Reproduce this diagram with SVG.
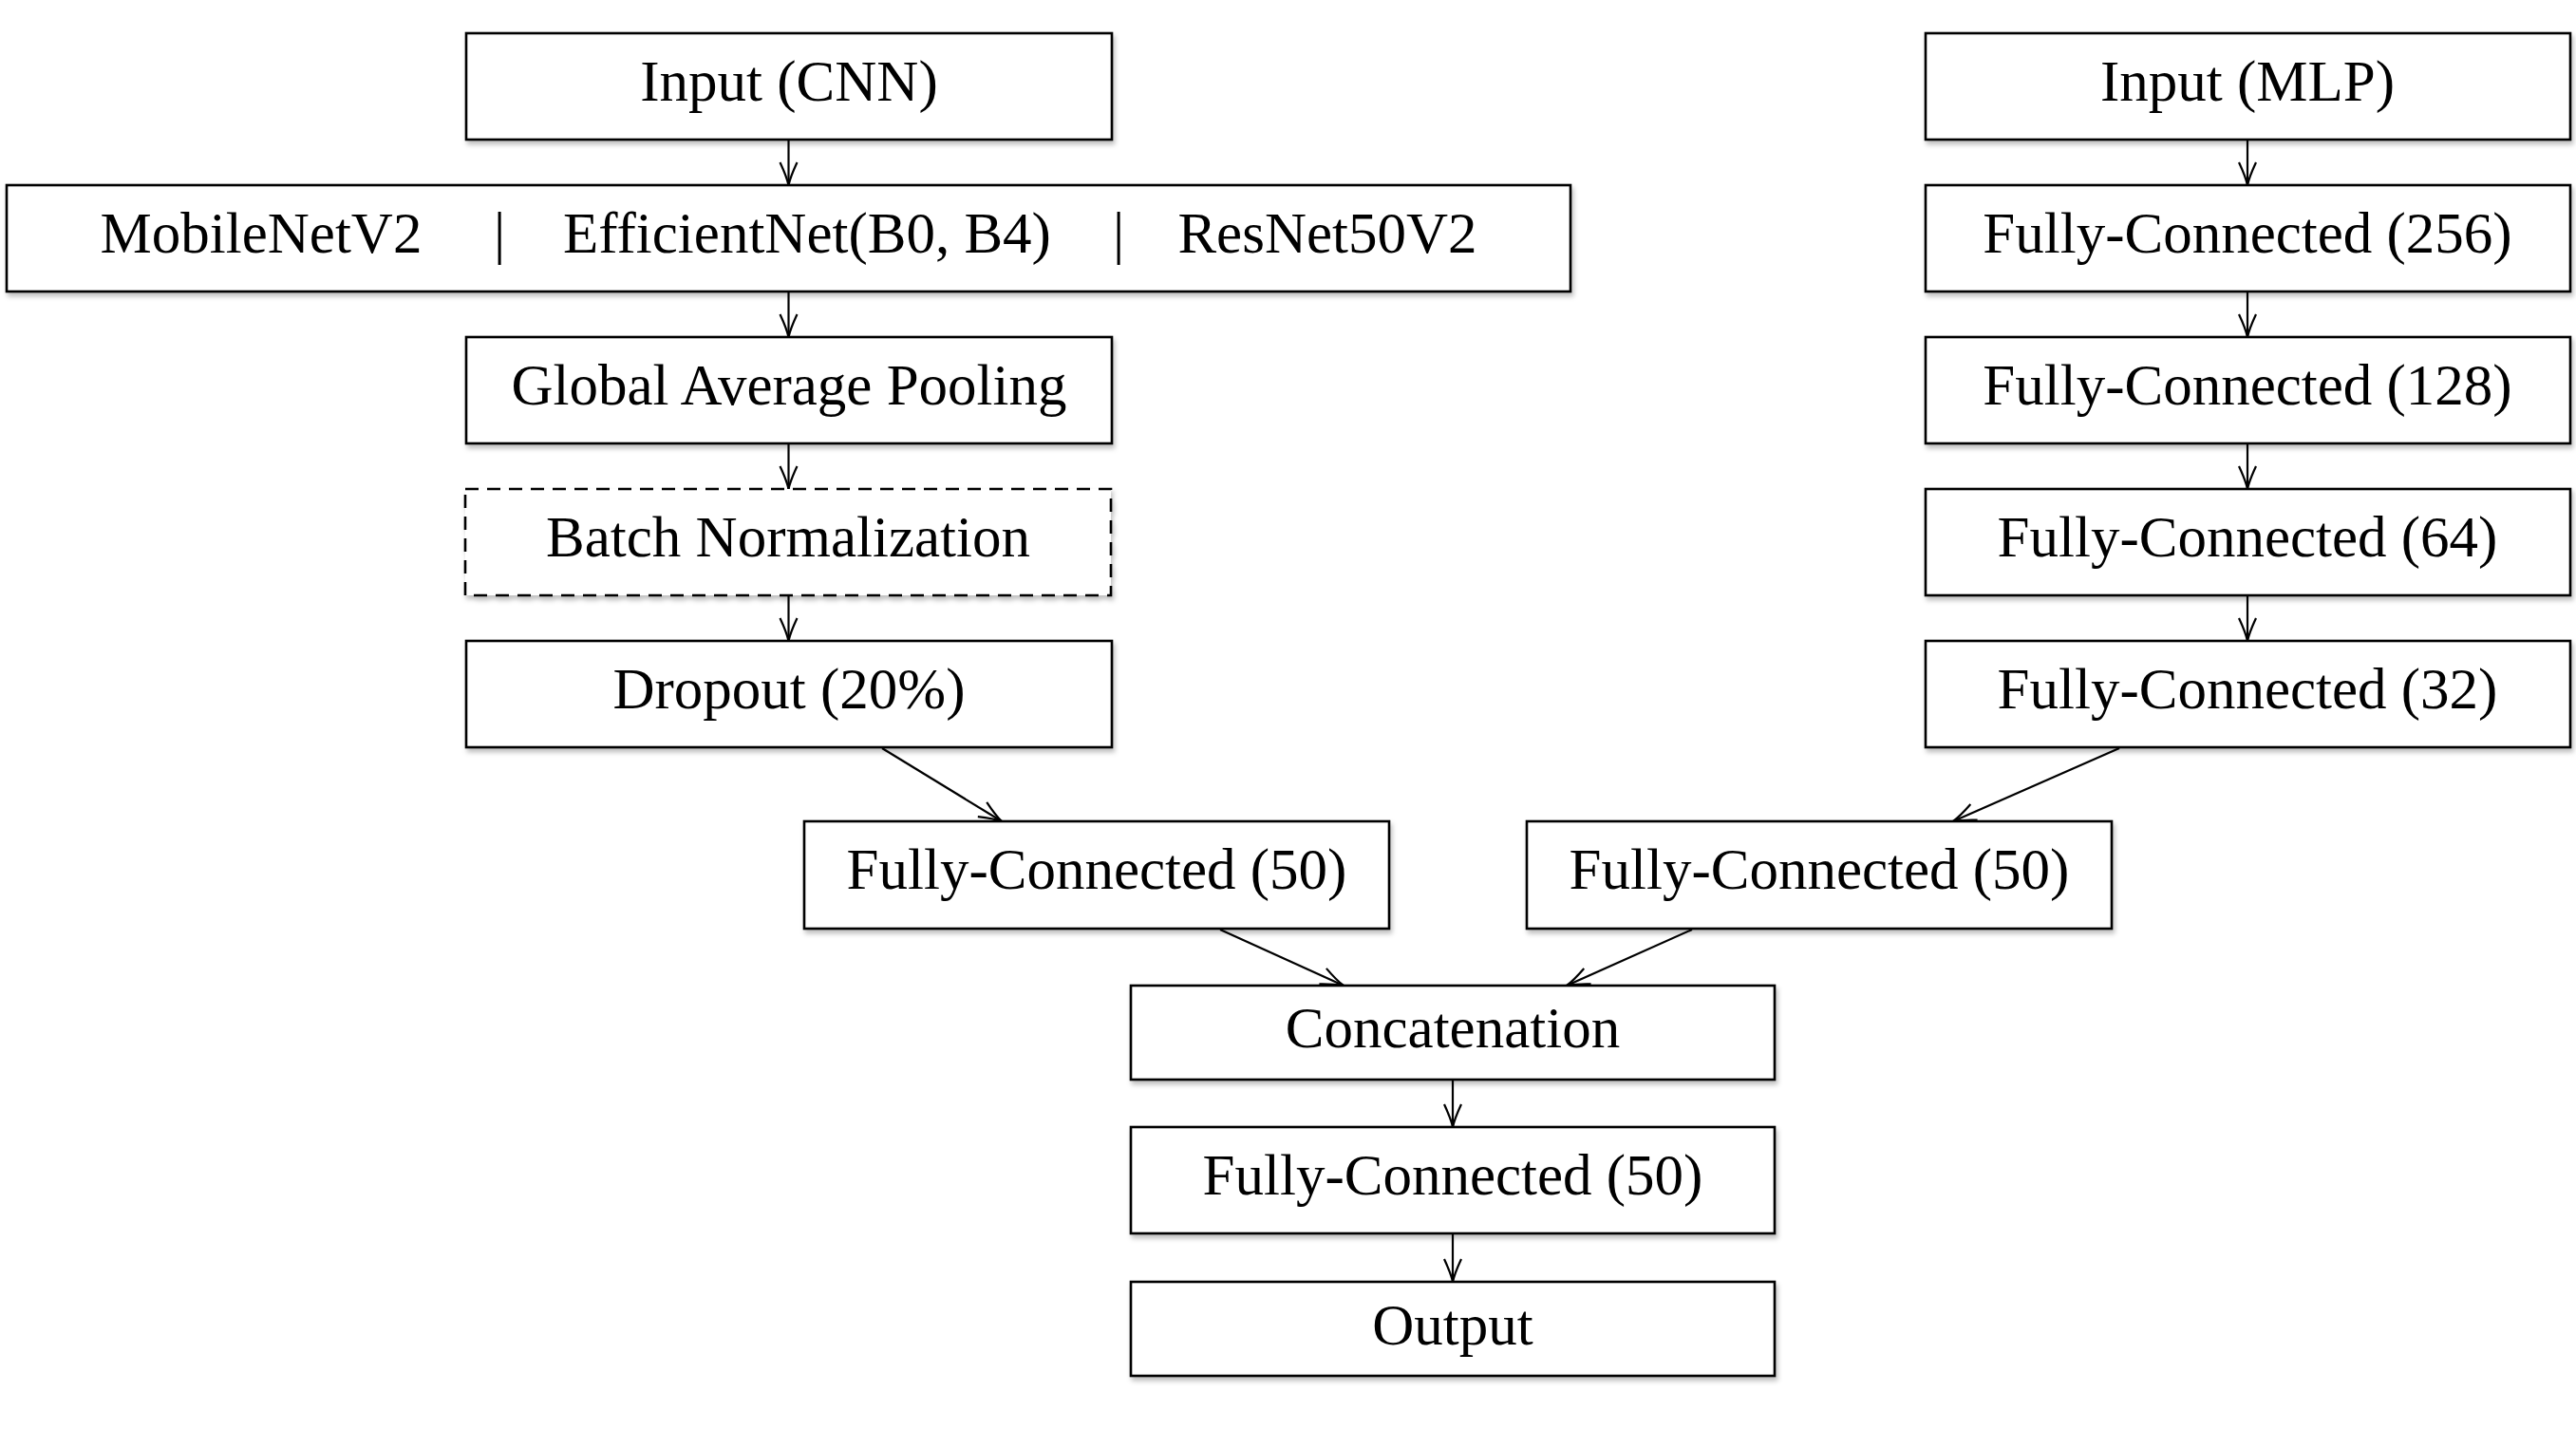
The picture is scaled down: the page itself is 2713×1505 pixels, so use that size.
<svg xmlns="http://www.w3.org/2000/svg" width="2713" height="1505" viewBox="0 0 2713 1505">
<style>
.box{fill:#fff;stroke:#000;stroke-width:2.6;filter:url(#sh)}
.dash{stroke-dasharray:14 9}
.t{font-family:"Liberation Serif","Times New Roman",serif;font-size:61px;fill:#000;text-anchor:middle}
.c{fill:none;stroke:#000;stroke-width:2.2;marker-end:url(#arr)}
</style>
<defs>
<filter id="sh" x="-5%" y="-20%" width="110%" height="150%">
<feDropShadow dx="2" dy="4" stdDeviation="2.5" flood-color="#000" flood-opacity="0.25"/>
</filter>
<marker id="arr" markerUnits="userSpaceOnUse" orient="auto" overflow="visible" refX="0" refY="0" markerWidth="1" markerHeight="1">
<path d="M -24 -9 Q -9 -2 0 0 Q -9 2 -24 9" fill="none" stroke="#000" stroke-width="2.2"/>
</marker>
</defs>
<rect width="2713" height="1505" fill="#fff"/>
<g id="connectors">
<line class="c" x1="830.5" y1="148" x2="830.5" y2="195"/>
<line class="c" x1="830.5" y1="308" x2="830.5" y2="355"/>
<line class="c" x1="830.5" y1="468" x2="830.5" y2="515"/>
<line class="c" x1="830.5" y1="628" x2="830.5" y2="675"/>
<line class="c" x1="2367" y1="148" x2="2367" y2="195"/>
<line class="c" x1="2367" y1="308" x2="2367" y2="355"/>
<line class="c" x1="2367" y1="468" x2="2367" y2="515"/>
<line class="c" x1="2367" y1="628" x2="2367" y2="675"/>
<line class="c" x1="929" y1="788" x2="1055" y2="865"/>
<line class="c" x1="2232" y1="788" x2="2057" y2="865"/>
<line class="c" x1="1285" y1="979" x2="1415" y2="1038"/>
<line class="c" x1="1782" y1="979" x2="1650" y2="1038"/>
<line class="c" x1="1530" y1="1138" x2="1530" y2="1187"/>
<line class="c" x1="1530" y1="1300" x2="1530" y2="1350"/>
</g>
<g id="input-cnn"><rect class="box" x="491" y="35" width="680" height="112"/><text class="t" x="831" y="106">Input (CNN)</text></g>
<g id="backbone"><rect class="box" x="7" y="195" width="1647" height="112"/>
<text class="t" x="275" y="266">MobileNetV2</text>
<text class="t" x="526" y="266">|</text>
<text class="t" x="850" y="266">EfficientNet(B0, B4)</text>
<text class="t" x="1178" y="266">|</text>
<text class="t" x="1398" y="266">ResNet50V2</text></g>
<g id="gap"><rect class="box" x="491" y="355" width="680" height="112"/><text class="t" x="831" y="426">Global Average Pooling</text></g>
<g id="batchnorm"><rect class="box dash" x="490" y="515" width="680" height="112"/><text class="t" x="830" y="586">Batch Normalization</text></g>
<g id="dropout"><rect class="box" x="491" y="675" width="680" height="112"/><text class="t" x="831" y="746">Dropout (20%)</text></g>
<g id="input-mlp"><rect class="box" x="2028" y="35" width="679" height="112"/><text class="t" x="2367" y="106">Input (MLP)</text></g>
<g id="fc256"><rect class="box" x="2028" y="195" width="679" height="112"/><text class="t" x="2367" y="266">Fully-Connected (256)</text></g>
<g id="fc128"><rect class="box" x="2028" y="355" width="679" height="112"/><text class="t" x="2367" y="426">Fully-Connected (128)</text></g>
<g id="fc64"><rect class="box" x="2028" y="515" width="679" height="112"/><text class="t" x="2367" y="586">Fully-Connected (64)</text></g>
<g id="fc32"><rect class="box" x="2028" y="675" width="679" height="112"/><text class="t" x="2367" y="746">Fully-Connected (32)</text></g>
<g id="fc50-left"><rect class="box" x="847" y="865" width="616" height="113"/><text class="t" x="1155" y="936">Fully-Connected (50)</text></g>
<g id="fc50-right"><rect class="box" x="1608" y="865" width="616" height="113"/><text class="t" x="1916" y="936">Fully-Connected (50)</text></g>
<g id="concat"><rect class="box" x="1191" y="1038" width="678" height="99"/><text class="t" x="1530" y="1103">Concatenation</text></g>
<g id="fc50-merged"><rect class="box" x="1191" y="1187" width="678" height="112"/><text class="t" x="1530" y="1258">Fully-Connected (50)</text></g>
<g id="output"><rect class="box" x="1191" y="1350" width="678" height="99"/><text class="t" x="1530" y="1416">Output</text></g>
</svg>
